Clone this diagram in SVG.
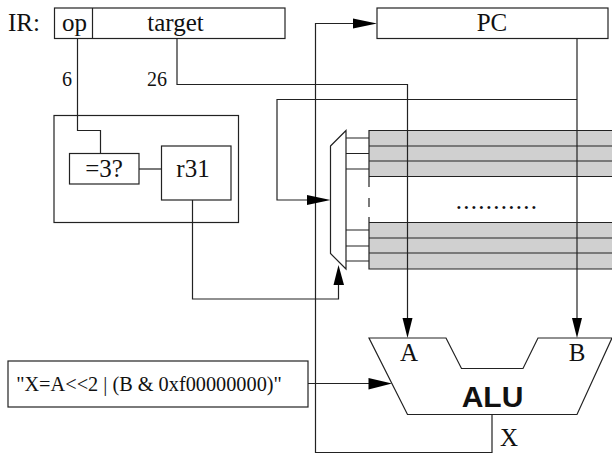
<svg xmlns="http://www.w3.org/2000/svg" width="612" height="453" viewBox="0 0 612 453">
<style>
.s{fill:none;stroke:#222;stroke-width:1.2}
.b{fill:#fff;stroke:#222;stroke-width:1.2}
.t{font-family:"Liberation Serif",serif;font-size:25px;fill:#111;text-anchor:middle}
.m{font-size:20px}
.a{fill:#000;stroke:none}
</style>
<g id="registers">
<rect x="369" y="130.500" width="243" height="46" fill="#d0d0d0"/>
<rect x="369" y="222.500" width="243" height="46.500" fill="#d0d0d0"/>
<path class="s" d="M612 130.500H369V176.500H612M369 146H612M369 161H612M612 222.500H369V269H612M369 238H612M369 253H612M369 176.500V187M369 198V207M369 217V222.500"/>
<path d="M346 138H369M346 153.500H369M346 169H369M346 230H369M346 246H369M346 261H369" class="s"/>
<text class="t" x="497" y="208.500" style="letter-spacing:1.25px">...........</text>
</g>
<g id="ir">
<rect class="b" x="54.500" y="8" width="230.500" height="30.500"/>
<path class="s" d="M92.500 8V38.500"/>
<text class="t" x="24" y="31">IR:</text>
<text class="t" x="74.500" y="31">op</text>
<text class="t" x="175.500" y="31">target</text>
</g>
<g id="control">
<rect class="b" x="54" y="115.500" width="184.500" height="107"/>
</g>
<g id="connectors">
<path class="s" d="M77.500 38.500V130.500H100.500V153.500"/>
<path class="s" d="M177 38.500V84.500H407.500V320"/>
<path class="s" d="M139 169H161.500"/>
<path class="s" d="M192.500 200V299H338.500V285"/>
<path class="s" d="M577 38.500V320"/>
<path class="s" d="M577 99.500H277V200H308"/>
<path class="s" d="M492 414.500V452.500H315.500V23.500H355"/>
<path class="s" d="M308 383.500H370"/>
<polygon class="a" points="377,23.500 353,18.500 353,28.500"/>
<polygon class="a" points="330.500,200 307,195 307,205"/>
<polygon class="a" points="338.500,265 333.500,285 344,285"/>
<polygon class="a" points="407.500,338 402.500,318 412.500,318"/>
<polygon class="a" points="577,338 572,318 582,318"/>
<polygon class="a" points="392,383.500 368.500,378 368.500,389.500"/>
</g>
<g id="eq3">
<rect class="b" x="69.500" y="153.500" width="69.500" height="30.500"/>
<text class="t" x="104" y="177">=3?</text>
</g>
<g id="r31">
<rect class="b" x="161.500" y="146" width="69.500" height="54"/>
<text class="t" x="193" y="177">r31</text>
</g>
<g id="pc">
<rect class="b" x="377" y="8" width="231" height="30.500"/>
<text class="t" x="492" y="31">PC</text>
</g>
<g id="mux">
<polygon class="b" points="330.500,146 346,130.500 346,269 330.500,253.500"/>
</g>
<g id="instr">
<rect class="b" x="8" y="361" width="300" height="46"/>
<text class="t m" x="149" y="390.500" style="font-size:20.300px">"X=A&lt;&lt;2 | (B &amp; 0xf00000000)"</text>
</g>
<g id="alu">
<polygon class="b" points="369,338 446,338 461.500,368.500 523,368.500 538,338 612,338 577,414.500 407.500,414.500"/>
<text class="t" x="409" y="361">A</text>
<text class="t" x="577" y="361">B</text>
<text x="492.500" y="407" style="font-family:'Liberation Sans',sans-serif;font-weight:700;font-size:30px;fill:#111;text-anchor:middle">ALU</text>
<text class="t" x="509" y="445.500">X</text>
</g>
<g id="labels">
<text class="t m" x="67" y="86">6</text>
<text class="t m" x="157" y="86">26</text>
</g>
</svg>
